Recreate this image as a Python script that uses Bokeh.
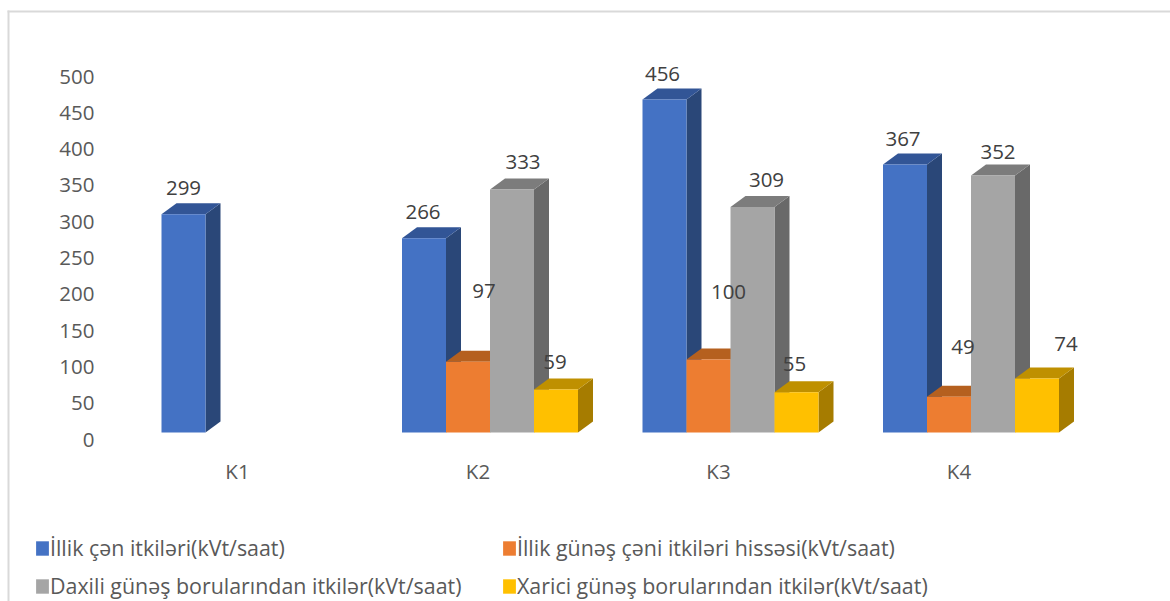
from bokeh.plotting import figure
from bokeh.models import Range1d, LinearAxis, FixedTicker, Legend, LegendItem, BoxAnnotation, ColumnDataSource
from bokeh.core.properties import value
from bokeh.embed import file_html
from bokeh.resources import INLINE

categories = ["K1", "K2", "K3", "K4"]
series_names = ["İllik çən itkiləri(kVt/saat)", "İllik günəş çəni itkiləri hissəsi(kVt/saat)",
                "Daxili günəş borularından itkilər(kVt/saat)", "Xarici günəş borularından itkilər(kVt/saat)"]
annual_tank = [299, 266, 456, 367]
annual_solar_tank = [None, 97, 100, 49]
inner_tubes = [None, 333, 309, 352]
outer_tubes = [None, 59, 55, 74]
y_ticks = [0, 50, 100, 150, 200, 250, 300, 350, 400, 450, 500]
series = [annual_tank, annual_solar_tank, inner_tubes, outer_tubes]

front = ["#4472C4", "#ED7D31", "#A5A5A5", "#FFC000"]
top = ["#325596", "#B5601F", "#7C7C7C", "#BF9000"]
side = ["#2A4778", "#A0561D", "#696969", "#A67C00"]
# label offsets in px from the top centre of each bar's front face
label_dx = [[0, -1, -2, -2], [0, 16, 20, 14], [0, 11, 14, 5], [0, -1, -2, 29]]
label_dy = [[-26, -26, -26, -26], [0, -71, -68, -50], [0, -27, -27, -24], [0, -27, -28, -34]]

W, H = 1170, 601
PX_X, PX_Y = 240.5, 0.73
X0 = 249
xr = Range1d(-X0 / PX_X, (W - X0) / PX_X)
yr = Range1d((432 - H) / PX_Y, 432 / PX_Y)

p = figure(width=W, height=H, x_range=xr, y_range=yr, output_backend="svg", toolbar_location=None,
           min_border=0, background_fill_color="white", border_fill_color="white", outline_line_color=None,
           x_axis_location=None, y_axis_location=None)
p.grid.visible = False

p.extra_y_ranges["ticks"] = Range1d((439 - H) / 0.726, 439 / 0.726)
p.extra_x_ranges["cats"] = Range1d(-237 / PX_X, (W - 237) / PX_X)

yax = LinearAxis(y_range_name="ticks", ticker=FixedTicker(ticks=y_ticks), fixed_location=(100 - X0) / PX_X)
xax = LinearAxis(x_range_name="cats", ticker=FixedTicker(ticks=[0, 1, 2, 3]),
                 major_label_overrides={i: c for i, c in enumerate(categories)},
                 fixed_location=(432 - 440) / PX_Y)
for ax in (yax, xax):
    ax.axis_line_color = None
    ax.major_tick_line_color = None
    ax.minor_tick_line_color = None
    ax.major_label_text_font = "Open Sans"
    ax.major_label_text_font_size = "20.5px"
    ax.major_label_text_color = "#595959"
yax.major_label_standoff = 0
xax.major_label_standoff = 10
p.add_layout(yax, "left")
p.add_layout(xax, "below")

bw = 44 / PX_X
dx = 15 / PX_X
dy = 11 / PX_Y
legend_renderers = []
for i, vals in enumerate(series):
    idx = [g for g, v in enumerate(vals) if v is not None]
    left = [g + (i - 2) * bw for g in idx]
    right = [l + bw for l in left]
    h = [vals[g] for g in idx]
    p.patches([[r, r + dx, r + dx, r] for r in right],
              [[0, dy, t + dy, t] for t in h], fill_color=side[i], line_color=None)
    p.patches([[l, r, r + dx, l + dx] for l, r in zip(left, right)],
              [[t, t, t + dy, t + dy] for t in h], fill_color=top[i], line_color=None)
    bar = p.quad(left=left, right=right, bottom=0, top=h, fill_color=front[i], line_color=None)
    legend_renderers.append(bar)

for i, vals in enumerate(series):
    idx = [g for g, v in enumerate(vals) if v is not None]
    src = ColumnDataSource(dict(
        x=[g + (i - 1.5) * bw for g in idx], y=[vals[g] for g in idx],
        t=[str(vals[g]) for g in idx],
        xo=[label_dx[i][g] for g in idx], yo=[label_dy[i][g] for g in idx]))
    p.text("x", "y", text="t", x_offset="xo", y_offset="yo", source=src, text_align="center",
           text_baseline="middle", text_font=value("Open Sans"), text_font_size="20.5px", text_color="#404040")

legend_order = [0, 2, 1, 3]
legend = Legend(items=[LegendItem(label=value(series_names[k]), renderers=[legend_renderers[k]]) for k in legend_order],
                ncols=2, location=(34, H - 600), orientation="vertical",
                padding=0, margin=0, spacing=9, glyph_width=16, glyph_height=18, label_standoff=0,
                label_width=442, label_text_font="Open Sans", label_text_font_size="21.4px",
                label_text_color="#595959", border_line_color=None, background_fill_alpha=0)
p.add_layout(legend, "center")

for kw in (dict(left=7, right=9, top=10, bottom=H), dict(left=7, right=W, top=10, bottom=12)):
    p.add_layout(BoxAnnotation(left_units="canvas", right_units="canvas", top_units="canvas", bottom_units="canvas",
                               fill_color="#D9D9D9", fill_alpha=1, line_color=None, **kw))

open("out.html", "w").write(file_html(p, INLINE))
